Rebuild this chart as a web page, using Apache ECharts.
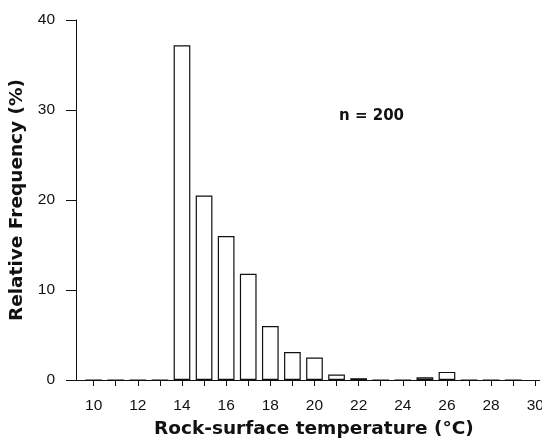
<!DOCTYPE html>
<html>
<head>
<meta charset="utf-8">
<script src="https://cdn.jsdelivr.net/npm/echarts@6/dist/echarts.min.js"></script>
<style>html,body{margin:0;padding:0;background:#fff}#c{width:542px;height:441px}</style>
</head>
<body>
<div id="c"></div>
<script>
var temperatures = [10,11,12,13,14,15,16,17,18,19,20,21,22,23,24,25,26,27,28,29];
var frequencies  = [0,0,0,0,37.2,20.5,16.0,11.8,6.0,3.1,2.5,0.6,0.2,0,0,0.3,0.9,0,0,0];
var xTickValues = [10,11,12,13,14,15,16,17,18,19,20,21,22,23,24,25,26,27,28,29,30];
var xLabelValues = [10,12,14,16,18,20,22,24,26,28,30];
var yTicks = [0,10,20,30,40];
var annotation = 'n = 200';

var chart = echarts.init(document.getElementById('c'), null, {renderer:'canvas'});
var font = 'Liberation Sans, Arial, sans-serif';
var boldFont = 'DejaVu Sans, sans-serif';
var ink = '#111';
chart.setOption({
  animation: false,
  backgroundColor: '#fff',
  grid: {left: 76, top: 20, width: 463.7, height: 360, containLabel: false, outerBoundsMode: 'none'},
  xAxis: {
    type: 'value', min: 9.2, max: 30.2,
    name: 'Rock-surface temperature (°C)', nameLocation: 'middle', nameGap: 40,
    nameTextStyle: {fontFamily: boldFont, fontWeight: 'bold', fontSize: 18.5, color: ink, padding: [0,0,0,12]},
    axisLine: {show: true, onZero: false, lineStyle: {color: ink, width: 1}},
    axisTick: {show: true, inside: false, length: 6, customValues: xTickValues, lineStyle: {color: ink}},
    axisLabel: {customValues: xLabelValues, margin: 18, fontFamily: font, fontSize: 15.5, color: ink},
    splitLine: {show: false}
  },
  yAxis: {
    type: 'value', min: 0, max: 40, interval: 10,
    name: 'Relative Frequency (%)', nameLocation: 'middle', nameGap: 45,
    nameTextStyle: {fontFamily: boldFont, fontWeight: 'bold', fontSize: 18.5, color: ink},
    axisLine: {show: true, lineStyle: {color: ink, width: 1}},
    axisTick: {show: true, inside: false, length: 10, lineStyle: {color: ink}},
    axisLabel: {margin: 21, fontFamily: font, fontSize: 15.5, color: ink},
    splitLine: {show: false}
  },
  series: [{
    type: 'bar',
    barWidth: 16.7,
    data: temperatures.map(function(t, i){ return [t, frequencies[i]]; }),
    itemStyle: {color: '#fff', borderColor: ink, borderWidth: 1.2},
    silent: true
  }],
  graphic: [{
    type: 'text', left: 339, top: 109,
    style: {text: annotation, font: 'bold 15px ' + boldFont, fill: ink}
  }]
});
</script>
</body>
</html>
